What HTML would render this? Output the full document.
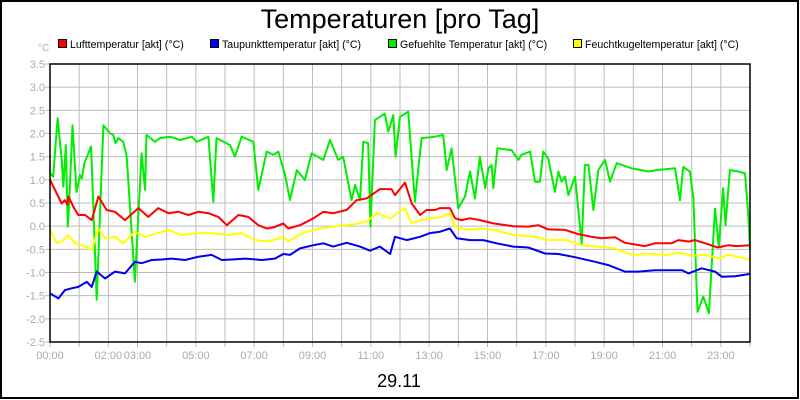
<!DOCTYPE html>
<html><head><meta charset="utf-8"><style>
html,body{margin:0;padding:0;background:#fff}
svg{display:block;font-family:"Liberation Sans",sans-serif}
</style></head><body>
<svg id="chart" width="800" height="400" viewBox="0 0 800 400" xmlns="http://www.w3.org/2000/svg">
<rect x="1" y="1" width="797" height="397" fill="#fff" stroke="#000" stroke-width="2"/>
<text x="400" y="28" font-size="27" text-anchor="middle" fill="#000">Temperaturen [pro Tag]</text>
<text x="38" y="51" font-size="10" fill="#aaa">°C</text>
<g id="legend"></g>
<g id="grid"></g>
<g id="series"></g>
<g id="axes"></g>
<text x="399" y="387" font-size="18" text-anchor="middle" fill="#000">29.11</text>
</svg>
<script>
const yTicks=[3.5,3.0,2.5,2.0,1.5,1.0,0.5,0.0,-0.5,-1.0,-1.5,-2.0,-2.5];
const xTickHours=[0,2,3,5,7,9,11,13,15,17,19,21,23];
const xTickLabels=["00:00","02:00","03:00","05:00","07:00","09:00","11:00","13:00","15:00","17:00","19:00","21:00","23:00"];
const seriesNames=["Lufttemperatur [akt] (°C)","Taupunkttemperatur [akt] (°C)","Gefuehlte Temperatur [akt] (°C)","Feuchtkugeltemperatur [akt] (°C)"];
const redH=[0,0.4,0.51,0.6,0.63,0.8,0.97,1.2,1.43,1.66,1.94,2.23,2.57,3.03,3.37,3.71,4.06,4.4,4.74,5.09,5.43,5.77,6.06,6.46,6.8,7.14,7.43,7.7,8.0,8.17,8.57,9.03,9.37,9.71,10.17,10.51,10.86,11.31,11.71,11.83,12.17,12.4,12.69,12.91,13.2,13.37,13.71,13.89,14.11,14.4,14.74,15.2,15.88,16.4,16.74,17.08,17.66,18.1,18.57,18.9,19.37,19.71,20.4,20.74,21.31,21.54,21.9,22.11,22.46,22.9,23.26,23.54,24.0];
const redV=[1.0,0.49,0.56,0.46,0.64,0.42,0.24,0.24,0.13,0.64,0.35,0.31,0.13,0.39,0.2,0.39,0.28,0.31,0.24,0.31,0.28,0.2,0.02,0.24,0.2,0.02,-0.05,-0.02,0.06,-0.05,0.02,0.17,0.31,0.28,0.35,0.56,0.6,0.8,0.8,0.67,0.94,0.49,0.24,0.35,0.35,0.39,0.39,0.17,0.13,0.17,0.13,0.06,0.0,-0.01,0.02,-0.07,-0.08,-0.17,-0.23,-0.26,-0.24,-0.36,-0.43,-0.37,-0.37,-0.3,-0.33,-0.3,-0.37,-0.46,-0.41,-0.43,-0.41];
const blueH=[0,0.29,0.51,0.74,0.97,1.26,1.43,1.6,1.89,2.23,2.57,2.91,3.14,3.49,3.83,4.17,4.63,5.09,5.54,5.89,6.23,6.69,7.26,7.71,8.0,8.23,8.57,9.03,9.37,9.71,10.17,10.63,10.97,11.31,11.66,11.83,12.23,12.69,13.03,13.37,13.71,13.94,14.4,14.86,15.31,15.88,16.4,16.97,17.43,18.0,18.69,19.14,19.71,20.17,20.74,21.66,21.89,22.34,22.8,23.03,23.49,24.0];
const blueV=[-1.45,-1.56,-1.38,-1.34,-1.31,-1.2,-1.31,-0.98,-1.13,-0.98,-1.02,-0.77,-0.8,-0.73,-0.72,-0.7,-0.73,-0.66,-0.62,-0.73,-0.72,-0.7,-0.73,-0.7,-0.6,-0.62,-0.48,-0.41,-0.37,-0.44,-0.36,-0.44,-0.53,-0.44,-0.6,-0.23,-0.3,-0.23,-0.15,-0.12,-0.05,-0.26,-0.3,-0.3,-0.37,-0.44,-0.46,-0.59,-0.6,-0.67,-0.77,-0.84,-0.98,-0.98,-0.95,-0.95,-1.02,-0.91,-0.98,-1.09,-1.08,-1.03];
const greenH=[0,0.11,0.26,0.4,0.46,0.54,0.61,0.66,0.77,0.91,1.03,1.09,1.18,1.41,1.6,1.83,2.06,2.17,2.25,2.34,2.51,2.63,2.91,3.14,3.26,3.31,3.6,3.77,4.11,4.46,4.86,5.03,5.43,5.6,5.71,6.17,6.34,6.57,6.97,7.14,7.43,7.66,7.83,8.06,8.23,8.46,8.74,8.97,9.37,9.6,9.88,10.05,10.34,10.46,10.63,10.74,10.91,10.99,11.14,11.48,11.6,11.77,11.85,12.0,12.28,12.51,12.74,13.2,13.48,13.6,13.77,14.0,14.23,14.4,14.57,14.74,14.92,15.03,15.14,15.2,15.34,15.83,16.06,16.17,16.46,16.63,16.8,16.91,17.08,17.31,17.43,17.54,17.66,17.77,18.0,18.23,18.34,18.46,18.63,18.8,19.03,19.2,19.43,19.94,20.51,20.8,21.43,21.6,21.71,21.94,22.06,22.2,22.4,22.59,22.8,22.93,23.08,23.16,23.31,23.6,23.83,23.94,24.0];
const greenV=[1.14,1.07,2.33,1.43,0.85,1.75,-0.01,0.56,2.18,0.74,1.1,1.03,1.36,1.72,-1.59,2.18,2.0,1.97,1.79,1.9,1.82,1.5,-1.2,1.57,0.78,1.97,1.82,1.9,1.93,1.86,1.93,1.82,1.93,0.53,1.9,1.75,1.5,1.93,1.82,0.78,1.61,1.54,1.61,1.1,0.565,1.21,0.996,1.57,1.43,1.86,1.43,1.5,0.565,0.89,0.565,1.82,1.79,-0.01,2.29,2.43,2.04,2.4,1.5,2.36,2.47,0.53,1.9,1.93,1.97,1.21,1.68,0.385,0.64,1.18,0.6,1.5,0.82,1.25,1.32,0.82,1.68,1.64,1.43,1.54,1.61,0.96,0.96,1.61,1.46,0.74,1.18,0.96,1.07,0.67,1.07,-0.37,1.32,1.32,0.35,1.21,1.43,0.96,1.36,1.25,1.18,1.21,1.25,0.56,1.28,1.18,0.6,-1.85,-1.52,-1.88,0.38,-0.44,0.82,0.02,1.21,1.18,1.14,0.24,-0.5];
const yellowH=[0,0.23,0.46,0.63,0.86,1.09,1.43,1.66,1.89,2.23,2.51,2.91,3.26,3.71,4.06,4.51,5.09,5.54,6.11,6.57,7.03,7.49,8.0,8.17,8.68,9.26,9.83,10.51,10.86,11.2,11.66,12.17,12.4,12.69,13.03,13.37,13.71,13.89,14.29,14.74,15.2,15.88,16.63,17.08,17.66,18.23,18.8,19.37,19.94,20.51,21.2,21.54,22.0,22.46,22.9,23.26,24.0];
const yellowV=[-0.08,-0.37,-0.3,-0.19,-0.37,-0.41,-0.51,-0.05,-0.26,-0.23,-0.37,-0.12,-0.23,-0.15,-0.08,-0.19,-0.15,-0.15,-0.19,-0.15,-0.3,-0.33,-0.23,-0.33,-0.14,-0.05,0.0,0.05,0.1,0.28,0.17,0.39,0.06,0.13,0.17,0.19,0.28,-0.01,-0.08,-0.05,-0.08,-0.19,-0.23,-0.3,-0.29,-0.41,-0.44,-0.48,-0.62,-0.6,-0.62,-0.57,-0.64,-0.62,-0.69,-0.62,-0.72];

const NS="http://www.w3.org/2000/svg";
const X0=50,X1=750,Y0=64,Y1=342,YMAX=3.5,YMIN=-2.5;
function xs(h){return X0+(h/24)*(X1-X0);}
function ys(v){return Y0+(YMAX-v)/(YMAX-YMIN)*(Y1-Y0);}
function mk(tag,attrs,parent){const e=document.createElementNS(NS,tag);for(const k in attrs)e.setAttribute(k,attrs[k]);parent.appendChild(e);return e;}
const grid=document.getElementById('grid'),axes=document.getElementById('axes'),series=document.getElementById('series'),legend=document.getElementById('legend');
for(let h=1;h<24;h++){
  const l=mk('line',{x1:xs(h),x2:xs(h),y1:Y0,y2:Y1,stroke:'#bbb','stroke-width':1},grid);
  
  
}
for(let h=0;h<=24;h++){
  const t=mk('line',{x1:xs(h),x2:xs(h),y1:Y1,y2:Y1+5,stroke:'#bbb','stroke-width':1},axes);
  
  
}
yTicks.forEach(v=>{
  if(v<YMAX&&v>YMIN){const l=mk('line',{x1:X0,x2:X1,y1:ys(v),y2:ys(v),stroke:'#bbb','stroke-width':1},grid);
  
  }
  const tk=mk('line',{x1:X0-5,x2:X0,y1:ys(v),y2:ys(v),stroke:'#bbb','stroke-width':1},axes);
  
  
  const t=mk('text',{x:X0-5,y:ys(v)+4,'font-size':11,'text-anchor':'end',fill:'#aaa'},axes);
  t.textContent=v.toFixed(1);
  
  
});
xTickHours.forEach((h,i)=>{
  const t=mk('text',{x:xs(h),y:Y1+17,'font-size':11,'text-anchor':'middle',fill:'#aaa'},axes);
  t.textContent=xTickLabels[i];
  
  
});
const frame=mk('path',{d:`M${X0},${Y0}H${X1}V${Y1}H${X0}Z`,fill:'none',stroke:'#000','stroke-width':1.5},axes);


function draw(H,V,color,name){
  const pts=H.map((h,i)=>xs(h).toFixed(1)+','+ys(V[i]).toFixed(1)).join(' ');
  const p=mk('polyline',{points:pts,fill:'none',stroke:color,'stroke-width':2,'stroke-linejoin':'round'},series);
  
  
}
draw(greenH,greenV,'#00ee00','line-gefuehlte-temperatur');
draw(redH,redV,'#ff0000','line-lufttemperatur');
draw(yellowH,yellowV,'#ffff00','line-feuchtkugeltemperatur');
draw(blueH,blueV,'#0000ee','line-taupunkttemperatur');
const legX=[58,210,388,573],legC=['#ff0000','#0000ff','#00ee00','#ffff00'];
seriesNames.forEach((n,i)=>{
  const r=mk('rect',{x:legX[i]+0.5,y:39.5,width:8,height:8,fill:legC[i],stroke:'#000','stroke-width':1},legend);
  
  
  const t=mk('text',{x:legX[i]+12,y:48,'font-size':10.6,fill:'#000'},legend);
  t.textContent=n;
  
  
});
</script>
</body></html>
